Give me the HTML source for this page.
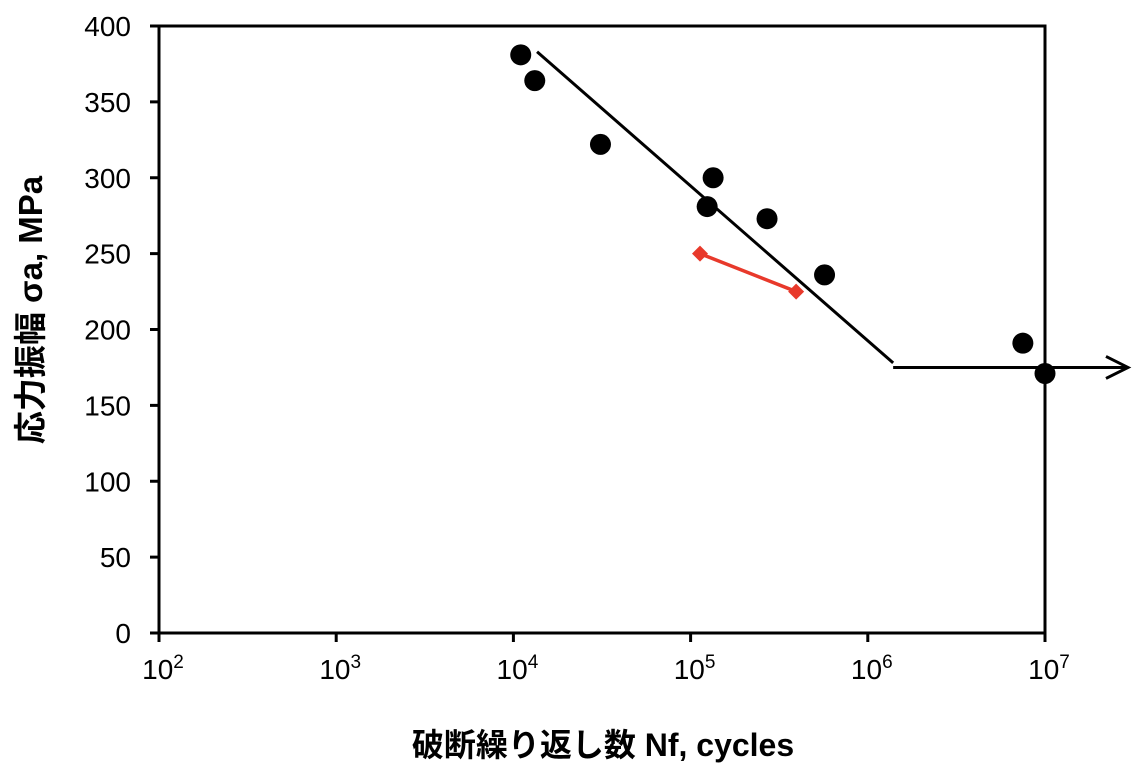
<!DOCTYPE html>
<html><head><meta charset="utf-8"><style>
body{margin:0;background:#fff}
svg{display:block}
text{font-family:"Liberation Sans","Noto Sans CJK JP",sans-serif}
</style></head><body>
<svg id="chart" width="1134" height="780">
<g id="axes"></g>
<g id="marks"></g>
<text x="603" y="756" text-anchor="middle" font-size="32" font-weight="bold">破断繰り返し数 Nf, cycles</text>
<text transform="translate(42,310) rotate(-90)" text-anchor="middle" font-size="33" font-weight="bold">応力振幅 σa, MPa</text>
</svg>
<script>
const xExps=[2,3,4,5,6,7];
const yTicks=[0,50,100,150,200,250,300,350,400];
const blackN=[11000,13200,31000,124000,134000,270000,570000,7500000,10000000];
const blackS=[381,364,322,281,300,273,236,191,171];
const redN=[113000,394000];
const redS=[250,225];
const fitN=[13600,1390000];
const fitS=[383,178];
const limitN=[1390000,29400000];
const limitS=[175,175];
const L=159,R=1045,T=26,B=633;
const X=n=>L+(Math.log10(n)-2)/5*(R-L);
const Y=s=>B-s/400*(B-T);
const NS='http://www.w3.org/2000/svg';
function mk(p,t,a){const e=document.createElementNS(NS,t);for(const k in a)e.setAttribute(k,a[k]);p.appendChild(e);return e;}
const ax=document.getElementById('axes'),mg=document.getElementById('marks');
let e=mk(ax,'rect',{x:L,y:T,width:R-L,height:B-T,fill:'none',stroke:'#000','stroke-width':3});

yTicks.forEach(v=>{let t=mk(ax,'line',{x1:L-9,x2:L,y1:Y(v),y2:Y(v),stroke:'#000','stroke-width':3});

let l=mk(ax,'text',{x:L-28,y:Y(v)+10,'text-anchor':'end','font-size':28});l.textContent=v;
});
xExps.forEach(p=>{const x=X(Math.pow(10,p));let t=mk(ax,'line',{x1:x,x2:x,y1:B,y2:B+9,stroke:'#000','stroke-width':3});

let l=mk(ax,'text',{x:x+4,y:B+46,'text-anchor':'middle','font-size':28});l.textContent='10';
let s=mk(l,'tspan',{dy:-11,'font-size':19});s.textContent=p;
});
e=mk(mg,'line',{x1:X(fitN[0]),y1:Y(fitS[0]),x2:X(fitN[1]),y2:Y(fitS[1]),stroke:'#000','stroke-width':3});

const x2=X(limitN[1]),y2=Y(limitS[1]);
e=mk(mg,'path',{d:`M${X(limitN[0])},${Y(limitS[0])}L${x2},${y2}M${x2-22},${y2-11}L${x2},${y2}L${x2-22},${y2+11}`,fill:'none',stroke:'#000','stroke-width':3});

e=mk(mg,'polyline',{points:redN.map((n,i)=>X(n)+','+Y(redS[i])).join(' '),fill:'none',stroke:'#e8392b','stroke-width':3.5});

redN.forEach((n,i)=>{const x=X(n),y=Y(redS[i]);let d=mk(mg,'path',{d:`M${x},${y-8}L${x+8},${y}L${x},${y+8}L${x-8},${y}Z`,fill:'#e8392b'});
});
blackN.forEach((n,i)=>{let c=mk(mg,'circle',{cx:X(n),cy:Y(blackS[i]),r:10.5,fill:'#000'});
});
</script>
</body></html>
